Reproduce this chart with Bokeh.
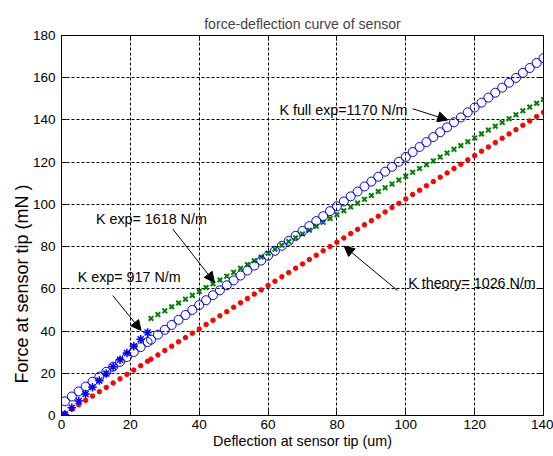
from bokeh.plotting import figure
from bokeh.models import Range1d, FixedTicker, LinearAxis, Label, Arrow, NormalHead, Title
from bokeh.embed import file_html
from bokeh.resources import INLINE

# ---- data ----
x_full = [1, 3, 5, 7, 9, 11, 13, 15, 17, 19, 21, 23, 25,
          26, 28, 30, 32, 34, 36, 38, 40, 42, 44, 46, 48, 50, 52, 54, 56, 58, 60,
          62, 64, 66, 68, 70, 72, 74, 76, 78, 80, 82, 84, 86, 88, 90, 92, 94, 96,
          98, 100, 102, 104, 106, 108, 110, 112, 114, 116, 118, 120, 122, 124,
          126, 128, 130, 132, 134, 136, 138, 140]
f_full_exp = [6.7, 9.0, 11.4, 13.7, 16.0, 18.4, 20.7, 23.1, 25.4, 27.7, 30.1, 32.4, 34.8,
              35.9, 38.3, 40.6, 42.9, 45.3, 47.6, 50.0, 52.3, 54.6, 57.0, 59.3, 61.7, 64.0,
              66.3, 68.7, 71.0, 73.4, 75.7, 78.0, 80.4, 82.7, 85.1, 87.4, 89.7, 92.1, 94.4,
              96.8, 99.1, 101.4, 103.8, 106.1, 108.5, 110.8, 113.1, 115.5, 117.8, 120.2,
              122.5, 124.8, 127.2, 129.5, 131.9, 134.2, 136.5, 138.9, 141.2, 143.6, 145.9,
              148.2, 150.6, 152.9, 155.3, 157.6, 159.9, 162.3, 164.6, 167.0, 169.3]
f_theory = [1.0, 3.1, 5.1, 7.2, 9.2, 11.3, 13.3, 15.4, 17.4, 19.5, 21.5, 23.6, 25.7,
            26.7, 28.7, 30.8, 32.8, 34.9, 36.9, 39.0, 41.0, 43.1, 45.1, 47.2, 49.2, 51.3,
            53.4, 55.4, 57.5, 59.5, 61.6, 63.6, 65.7, 67.7, 69.8, 71.8, 73.9, 75.9, 78.0,
            80.0, 82.1, 84.1, 86.2, 88.2, 90.3, 92.3, 94.4, 96.4, 98.5, 100.5, 102.6,
            104.7, 106.7, 108.8, 110.8, 112.9, 114.9, 117.0, 119.0, 121.1, 123.1, 125.2,
            127.2, 129.3, 131.3, 133.4, 135.4, 137.5, 139.5, 141.6, 143.6]
x_low = [1, 3, 5, 7, 9, 11, 13, 15, 17, 19, 21, 23, 25]
f_low_exp = [0.5, 3.7, 6.9, 10.2, 13.4, 16.6, 19.9, 23.1, 26.4, 29.6, 32.8, 36.1, 39.3]
x_high = [26, 28, 30, 32, 34, 36, 38, 40, 42, 44, 46, 48, 50, 52, 54, 56, 58, 60,
          62, 64, 66, 68, 70, 72, 74, 76, 78, 80, 82, 84, 86, 88, 90, 92, 94, 96,
          98, 100, 102, 104, 106, 108, 110, 112, 114, 116, 118, 120, 122, 124,
          126, 128, 130, 132, 134, 136, 138, 140]
f_high_exp = [46.0, 47.8, 49.6, 51.5, 53.3, 55.1, 56.9, 58.7, 60.6, 62.4, 64.2, 66.0,
              67.8, 69.7, 71.5, 73.3, 75.1, 76.9, 78.8, 80.6, 82.4, 84.2, 86.0, 87.8,
              89.7, 91.5, 93.3, 95.1, 97.0, 98.8, 100.6, 102.4, 104.2, 106.1, 107.9,
              109.7, 111.5, 113.3, 115.2, 117.0, 118.8, 120.6, 122.4, 124.3, 126.1,
              127.9, 129.7, 131.5, 133.4, 135.2, 137.0, 138.8, 140.6, 142.5, 144.3,
              146.1, 147.9, 149.7]
x_ticks = [0, 20, 40, 60, 80, 100, 120, 140]
y_ticks = [0, 20, 40, 60, 80, 100, 120, 140, 160, 180]

# annotations: text, text position, arrow tail, arrow head (data units)
ann_text = ["K full exp=1170 N/m", "K exp= 1618 N/m", "K exp= 917 N/m", "K theory= 1026 N/m"]
ann_pos = [(63.3, 144.8), (10.0, 93.2), (4.7, 65.8), (100.7, 62.9)]
ann_tail = [(102.0, 145.3), (32.3, 88.4), (14.9, 56.8), (97.6, 59.2)]
ann_head = [(112.2, 140.0), (44.4, 63.1), (23.1, 40.3), (82.1, 80.2)]

FONT = "Liberation Sans"

p = figure(width=553, height=456, output_backend="svg", toolbar_location=None,
           x_range=Range1d(0, 140), y_range=Range1d(0, 180),
           min_border_left=61, min_border_right=10, min_border_top=35, min_border_bottom=41)
p.background_fill_color = "white"
p.border_fill_color = "white"
p.outline_line_color = "black"
p.outline_line_width = 1

p.title.text = "force-deflection curve of sensor"
p.title.align = "center"
p.title.text_font = FONT
p.title.text_font_size = "14.1px"
p.title.text_font_style = "normal"
p.title.offset = 0
p.title.standoff = 8

for ax, ticks in ((p.xaxis[0], x_ticks), (p.yaxis[0], y_ticks)):
    ax.ticker = FixedTicker(ticks=ticks)
    ax.major_tick_in = 5
    ax.major_tick_out = 0
    ax.minor_tick_line_color = None
    ax.axis_line_color = "black"
    ax.major_tick_line_color = "black"
    ax.major_label_text_font = FONT
    ax.major_label_text_font_size = "13.5px"
    ax.major_label_text_color = "black"
    ax.axis_label_text_font = FONT
    ax.axis_label_text_font_size = "14.3px"
    ax.axis_label_text_font_style = "normal"
    ax.axis_label_text_color = "black"

p.xaxis.major_label_standoff = 4
p.xaxis.axis_label_standoff = 1
p.yaxis.major_label_standoff = 6
p.xaxis.axis_label = "Deflection at sensor tip (um)"

# y axis title as a side title so it can sit where the reference puts it
p.add_layout(Title(text="Force at sensor tip  (mN )", align="left", offset=32,
                   text_font=FONT, text_font_size="18px", text_font_style="normal",
                   text_color="black", standoff=-5), "left")

for loc, ticks in (("right", y_ticks), ("above", x_ticks)):
    a = LinearAxis(ticker=FixedTicker(ticks=ticks), major_tick_in=5, major_tick_out=0,
                   minor_tick_line_color=None, major_label_text_font_size="0px",
                   major_label_standoff=0,
                   axis_line_color="black", major_tick_line_color="black")
    a.major_label_text_color = None
    p.add_layout(a, loc)

for g, ticks in ((p.xgrid[0], x_ticks), (p.ygrid[0], y_ticks)):
    g.ticker = FixedTicker(ticks=ticks)
    g.grid_line_color = "black"
    g.grid_line_dash = "3 2"
    g.grid_line_width = 1

# series
p.scatter(x_full, f_theory, marker="circle", size=4.5, fill_color="red", line_color="red")
p.scatter(x_high, f_high_exp, marker="x", size=6.5, line_color="#008000", line_width=2)
p.scatter(x_full, f_full_exp, marker="circle", size=9, fill_color=None, line_color="blue", line_width=1)
p.scatter(x_low, f_low_exp, marker="asterisk", size=8.5, line_color="blue", line_width=1.5)

for t, pos, tail, head in zip(ann_text, ann_pos, ann_tail, ann_head):
    p.add_layout(Arrow(end=NormalHead(size=10, fill_color="black", line_color="black"),
                       x_start=tail[0], y_start=tail[1], x_end=head[0], y_end=head[1],
                       line_color="black", line_width=1))
    p.add_layout(Label(x=pos[0], y=pos[1], text=t, text_baseline="middle", text_align="left",
                       text_font=FONT, text_font_size="14.3px", text_color="black"))

open("out.html", "w").write(file_html(p, INLINE))
